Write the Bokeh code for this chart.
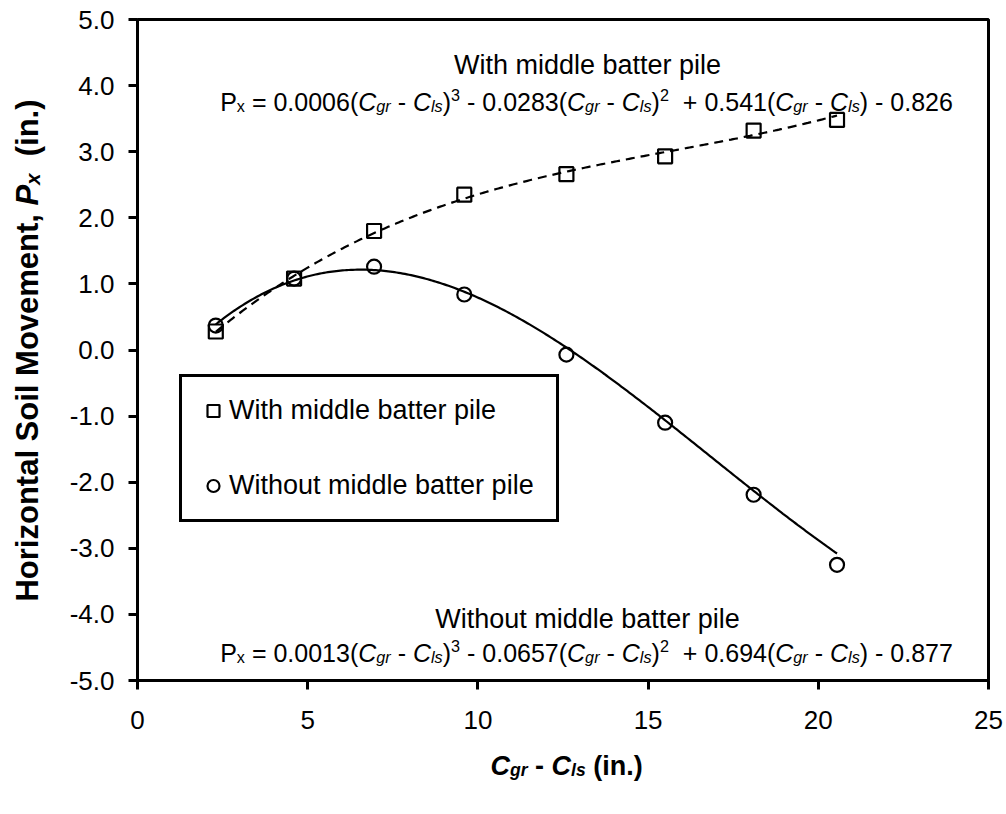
import numpy as np
from bokeh.plotting import figure
from bokeh.layouts import row, column
from bokeh.models import Label, Legend, LegendItem, FixedTicker, NumeralTickFormatter, Range1d
from bokeh.embed import file_html
from bokeh.resources import INLINE

# ---------------- data ----------------
x_vals = [2.3, 4.6, 6.95, 9.6, 12.6, 15.5, 18.1, 20.55]
with_pile = [0.28, 1.08, 1.80, 2.35, 2.66, 2.93, 3.32, 3.48]
without_pile = [0.37, 1.08, 1.26, 0.84, -0.07, -1.10, -2.19, -3.25]
coef_with = [0.0006, -0.0283, 0.541, -0.826]
coef_without = [0.0013, -0.0657, 0.694, -0.877]
series_names = ["With middle batter pile", "Without middle batter pile"]
x_ticks = [0, 5, 10, 15, 20, 25]
y_ticks = [-5, -4, -3, -2, -1, 0, 1, 2, 3, 4, 5]

# ---------------- layout constants ----------------
W, H = 1006, 814
YLAB_W = 60          # strip at the left holding the y-axis title
XLAB_H = 64          # strip at the bottom holding the x-axis title
FR_L, FR_R, FR_T, FR_B = 137, 988, 19, 680   # plot frame in page pixels
X_RANGE = (0, 25)
Y_RANGE = (-5, 5)
FONT = "Liberation Sans"

MAIN_W, MAIN_H = W - YLAB_W, H - XLAB_H

p = figure(width=MAIN_W, height=MAIN_H, output_backend="svg", toolbar_location=None,
           title=None,
           x_range=Range1d(*X_RANGE), y_range=Range1d(*Y_RANGE),
           min_border_left=FR_L - YLAB_W, min_border_right=W - FR_R,
           min_border_top=FR_T, min_border_bottom=MAIN_H - FR_B)
p.background_fill_color = "white"
p.border_fill_color = "white"
p.outline_line_color = "black"
p.outline_line_width = 3
p.xgrid.visible = False
p.ygrid.visible = False

for ax in (p.xaxis[0], p.yaxis[0]):
    ax.axis_line_width = 3
    ax.axis_line_color = "black"
    ax.major_tick_line_width = 3
    ax.major_tick_line_color = "black"
    ax.major_tick_in = 0
    ax.major_tick_out = 9
    ax.minor_tick_line_color = None
    ax.major_label_text_font = FONT
    ax.major_label_text_font_size = "26px"
    ax.major_label_text_color = "black"
    ax.axis_label = None

p.xaxis.ticker = FixedTicker(ticks=x_ticks)
p.yaxis.ticker = FixedTicker(ticks=y_ticks)
p.yaxis.formatter = NumeralTickFormatter(format="0.0")
p.xaxis.major_label_standoff = 21
p.yaxis.major_label_standoff = 14

# trend lines from the shown polynomial coefficients
xs = np.linspace(min(x_vals), max(x_vals), 300)
p.line(xs, np.polyval(coef_with, xs), line_color="black", line_width=2.2, line_dash="9 6")
p.line(xs, np.polyval(coef_without, xs), line_color="black", line_width=2.2)

r_with = p.scatter(x_vals, with_pile, marker="square", size=14, fill_color=None,
                   line_color="black", line_width=2.2)
r_without = p.scatter(x_vals, without_pile, marker="circle", size=14, fill_color=None,
                      line_color="black", line_width=2.2)

legend = Legend(items=[LegendItem(label=series_names[0], renderers=[r_with]),
                       LegendItem(label=series_names[1], renderers=[r_without])],
                location=(42, 158), margin=0, padding=16, spacing=40,
                glyph_width=30, glyph_height=35, label_height=35, label_width=311,
                label_standoff=1,
                label_text_font=FONT, label_text_font_size="27px", label_text_color="black",
                border_line_color="black", border_line_width=3, border_line_alpha=1.0,
                background_fill_color="white", background_fill_alpha=1.0)
p.add_layout(legend)

# ---------------- helper strips for the axis titles ----------------
def strip(wd, ht):
    f = figure(width=wd, height=ht, output_backend="svg", toolbar_location=None,
               title=None, x_range=Range1d(0, wd), y_range=Range1d(0, ht),
               min_border=0, min_border_left=0, min_border_right=0,
               min_border_top=0, min_border_bottom=0,
               x_axis_location=None, y_axis_location=None)
    f.outline_line_color = None
    f.xgrid.visible = False
    f.ygrid.visible = False
    f.background_fill_color = "white"
    f.border_fill_color = "white"
    return f


ylab_fig = strip(YLAB_W, H)
xlab_fig = strip(MAIN_W, XLAB_H)

# page pixel -> data coordinate converters for each canvas
def main_map(px, py):
    xd = X_RANGE[0] + (px - FR_L) / (FR_R - FR_L) * (X_RANGE[1] - X_RANGE[0])
    yd = Y_RANGE[1] - (py - FR_T) / (FR_B - FR_T) * (Y_RANGE[1] - Y_RANGE[0])
    return xd, yd


def ylab_map(px, py):
    return px, H - py


def xlab_map(px, py):
    return px - YLAB_W, H - py


# ---------------- rich text helpers ----------------
W_REG = {' ': 278, '(': 333, ')': 333, '+': 584, ',': 278, '-': 333, '.': 278, '=': 584,
         'C': 722, 'H': 722, 'M': 833, 'P': 667, 'S': 667, 'W': 944,
         'a': 556, 'b': 556, 'd': 556, 'e': 556, 'g': 556, 'h': 556, 'i': 222, 'l': 222,
         'm': 833, 'n': 556, 'o': 556, 'p': 556, 'r': 333, 's': 500, 't': 278, 'u': 556,
         'v': 500, 'x': 500, 'z': 500}
W_BOLD = {' ': 278, '(': 333, ')': 333, ',': 278, '-': 333, '.': 278,
          'C': 722, 'H': 722, 'M': 833, 'P': 667, 'S': 667,
          'a': 556, 'e': 556, 'g': 611, 'i': 278, 'l': 278, 'm': 889, 'n': 611, 'o': 611,
          'r': 389, 's': 556, 't': 333, 'v': 556, 'x': 556, 'z': 500}
SUB_SCALE = 0.65


def tw(s, style, size):
    tbl = W_BOLD if "bold" in style else W_REG
    return sum(tbl.get(ch, 556) for ch in s) / 1000.0 * size


def seg_size(pos, size):
    return size * SUB_SCALE if pos != "n" else size


def rich_text(fig, mapper, segs, anchor_px, anchor_py, size, vertical=False):
    total = sum(tw(t, st, seg_size(pos, size)) for t, st, pos in segs)
    ax, ay = mapper(anchor_px, anchor_py)
    cum = -total / 2
    for t, st, pos in segs:
        fs = seg_size(pos, size)
        lead = len(t) - len(t.lstrip(' '))
        txt = t.strip(' ')
        lead_w = tw(' ' * lead, st, fs)
        shift = 0.0
        if pos == "sub":
            shift = -0.17 * size
        elif pos == "sup":
            shift = 0.27 * size
        if txt:
            common = dict(x=ax, y=ay, text=txt, text_align="left", text_baseline="alphabetic",
                          text_font=FONT, text_font_style=st,
                          text_font_size=f"{fs:.1f}px", text_color="black")
            if vertical:
                lab = Label(x_offset=-shift, y_offset=cum + lead_w, angle=np.pi / 2, **common)
            else:
                lab = Label(x_offset=cum + lead_w, y_offset=shift, **common)
            fig.add_layout(lab)
        cum += tw(t, st, fs)


def eq_segs(coefs):
    a, b, c, d = coefs
    grp = lambda: [("C", "italic", "n"), ("gr", "italic", "sub"), (" - ", "normal", "n"),
                   ("C", "italic", "n"), ("ls", "italic", "sub"), (")", "normal", "n")]
    sg = lambda v: " + " if v >= 0 else " - "
    segs = [("P", "normal", "n"), ("x", "normal", "sub"), (f" = {abs(a):.4f}(", "normal", "n")]
    segs += grp() + [("3", "normal", "sup"), (f"{sg(b)}{abs(b):.4f}(", "normal", "n")]
    segs += grp() + [("2", "normal", "sup"), (f" {sg(c)}{abs(c):.3f}(", "normal", "n")]
    segs += grp() + [(f"{sg(d)}{abs(d):.3f}", "normal", "n")]
    return segs


EQ_SIZE = 25
TITLE_SIZE = 27
rich_text(p, main_map, [(series_names[0], "normal", "n")], 587, 64, TITLE_SIZE)
rich_text(p, main_map, eq_segs(coef_with), 586, 101, EQ_SIZE)
rich_text(p, main_map, [(series_names[1], "normal", "n")], 587, 618, TITLE_SIZE)
rich_text(p, main_map, eq_segs(coef_without), 586, 652, EQ_SIZE)

# axis titles
xlab = [("C", "bold italic", "n"), ("gr", "bold italic", "sub"), (" - ", "bold", "n"),
        ("C", "bold italic", "n"), ("ls", "bold italic", "sub"), (" (in.)", "bold", "n")]
rich_text(xlab_fig, xlab_map, xlab, 537, 765, 27)
ylab = [("Horizontal Soil Movement, ", "bold", "n"), ("P", "bold italic", "n"),
        ("x", "bold italic", "sub"), ("  (in.)", "bold", "n")]
rich_text(ylab_fig, ylab_map, ylab, 27, 350, 31, vertical=True)

layout = row(ylab_fig, column(p, xlab_fig, spacing=0), spacing=0)
open("out.html", "w").write(file_html(layout, INLINE))
